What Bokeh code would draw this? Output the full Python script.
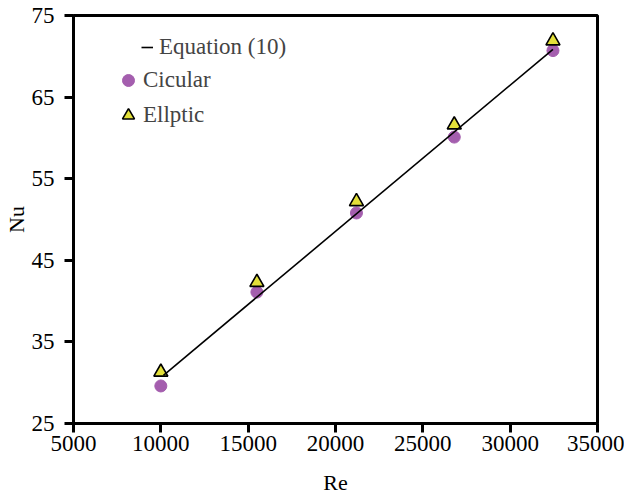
import math
from bokeh.plotting import figure
from bokeh.models import FixedTicker, Legend, LegendItem
from bokeh.embed import file_html
from bokeh.resources import INLINE

# data
re_vals = [10000, 15500, 21200, 26800, 32450]
nu_circular = [29.6, 41.1, 50.8, 60.1, 70.7]
nu_elliptic = [31.3, 42.3, 52.2, 61.6, 71.9]
eq_re = [10150, 32450]
eq_nu = [30.9, 70.85]
x_ticks = [5000, 10000, 15000, 20000, 25000, 30000, 35000]
y_ticks = [25, 35, 45, 55, 65, 75]

FONT = "Liberation Serif"

p = figure(width=624, height=497, output_backend="svg", toolbar_location=None,
           x_range=(5000, 35000), y_range=(25, 75),
           min_border_left=72, min_border_right=27, min_border_top=15, min_border_bottom=73)
p.background_fill_color = "white"
p.border_fill_color = "white"
p.grid.visible = False
p.outline_line_color = "black"
p.outline_line_width = 3

for ax in (p.xaxis, p.yaxis):
    ax.axis_line_width = 3
    ax.axis_line_color = "black"
    ax.major_tick_line_width = 3
    ax.major_tick_line_color = "black"
    ax.major_tick_in = 0
    ax.major_tick_out = 9
    ax.minor_tick_line_color = None
    ax.major_label_text_font = FONT
    ax.major_label_text_font_size = "23px"
    ax.major_label_text_color = "black"
    ax.axis_label_text_font = FONT
    ax.axis_label_text_font_size = "22px"
    ax.axis_label_text_font_style = "normal"
    ax.axis_label_text_color = "black"

p.xaxis.ticker = FixedTicker(ticks=x_ticks)
p.yaxis.ticker = FixedTicker(ticks=y_ticks)
p.xaxis.major_label_standoff = 3
p.yaxis.major_label_standoff = 10
p.xaxis.axis_label = "Re"
p.xaxis.axis_label_standoff = 16
p.yaxis.axis_label = "Nu"
p.yaxis.axis_label_standoff = 0

eq = p.line(eq_re, eq_nu, line_color="black", line_width=1.6)
circ = p.scatter(re_vals, nu_circular, marker="circle", size=12,
                 fill_color="#A45EAE", line_color="#A45EAE")
tri = p.scatter(re_vals, nu_elliptic, marker="triangle", size=14,
                fill_color="#E3E03A", line_color="black", line_width=1.6)
p.renderers.remove(eq)
p.renderers.append(eq)

leg1 = Legend(items=[LegendItem(label="Equation (10)", renderers=[eq])],
              location=(68, 361), glyph_width=12, glyph_height=30,
              label_standoff=6, padding=0, margin=0, spacing=0,
              border_line_color=None, background_fill_alpha=0,
              label_text_font=FONT, label_text_font_size="23px")
leg2 = Legend(items=[LegendItem(label="Cicular", renderers=[circ]),
                     LegendItem(label="Ellptic", renderers=[tri])],
              location=(40, 293), glyph_width=30, glyph_height=30,
              label_standoff=0, padding=0, margin=0, spacing=5,
              border_line_color=None, background_fill_alpha=0,
              label_text_font=FONT, label_text_font_size="23px")
p.add_layout(leg1)
p.add_layout(leg2)

open("out.html", "w").write(file_html(p, INLINE))
